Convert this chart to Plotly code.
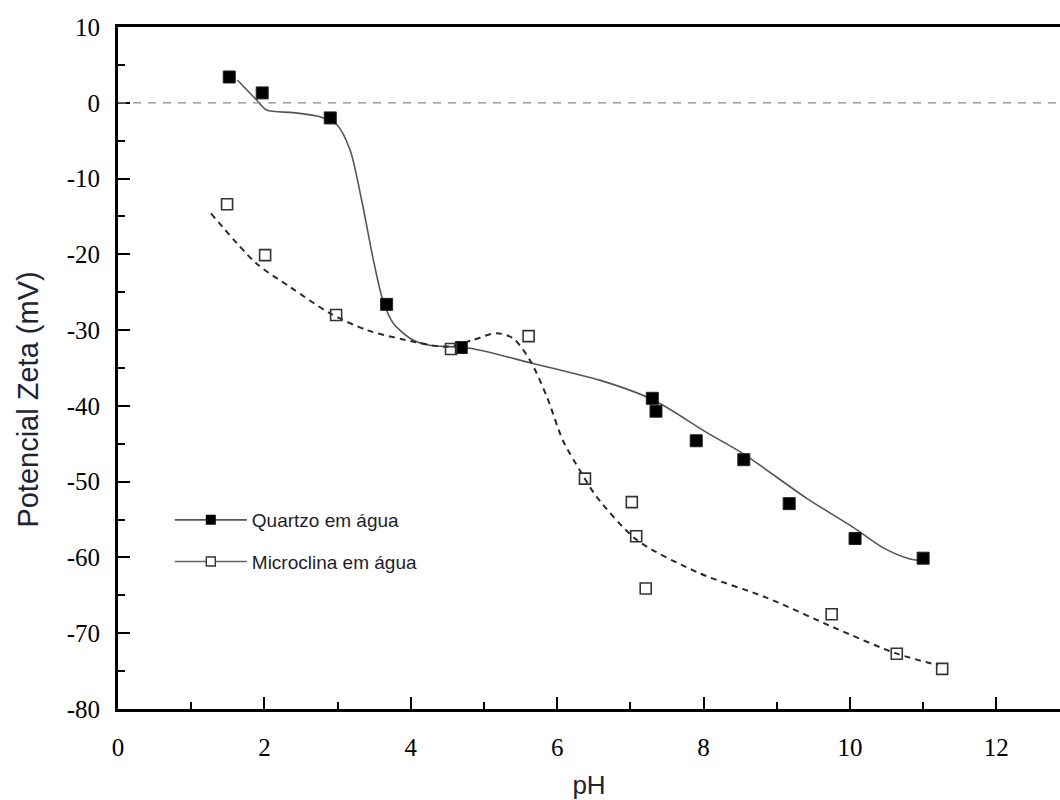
import plotly.graph_objects as go

# Measured data points
quartz_ph = [1.52, 1.97, 2.90, 3.67, 4.69, 7.30, 7.35, 7.90, 8.55, 9.17, 10.07, 11.00]
quartz_zeta = [3.4, 1.3, -2.0, -26.6, -32.3, -39.0, -40.7, -44.6, -47.1, -52.9, -57.5, -60.1]

micro_ph = [1.49, 2.01, 2.98, 4.55, 5.61, 6.38, 7.02, 7.08, 7.21, 9.75, 10.64, 11.26]
micro_zeta = [-13.4, -20.1, -28.0, -32.5, -30.8, -49.6, -52.7, -57.2, -64.1, -67.5, -72.7, -74.7]

# Fitted curves
quartz_fit_ph = [1.63, 1.89, 2.03, 2.40, 2.76, 2.99, 3.17, 3.33, 3.49, 3.62, 3.76, 4.03, 4.26,
                 4.81, 5.67, 6.58, 7.31, 8.04, 8.54, 9.41, 10.04, 10.45, 10.82, 10.95]
quartz_fit_zeta = [3.0, 0.4, -0.96, -1.3, -1.85, -2.9, -6.2, -12.9, -20.8, -26.1, -29.1, -31.3, -32.0,
                   -32.4, -34.4, -36.6, -39.2, -43.5, -46.3, -52.2, -56.0, -58.7, -60.2, -60.4]

micro_fit_ph = [1.27, 1.89, 2.35, 2.90, 3.40, 3.93, 4.49, 4.85, 5.17, 5.40, 5.63, 5.86, 6.08,
                6.31, 6.54, 7.09, 7.95, 8.86, 9.77, 10.64, 11.20]
micro_fit_zeta = [-14.6, -21.2, -24.3, -27.8, -30.0, -31.3, -32.2, -31.3, -30.4, -31.1, -34.0, -38.8, -44.6,
                  -48.5, -52.0, -57.7, -62.1, -65.3, -69.2, -72.7, -74.2]

x_range = [0, 12.87]
y_range = [-80, 10]
x_tick_vals = [0, 2, 4, 6, 8, 10, 12]
x_tick_text = ["0", "2", "4", "6", "8", "10", "12"]
y_tick_vals = [10, 0, -10, -20, -30, -40, -50, -60, -70, -80]
y_tick_text = ["10", "0", "-10", "-20", "-30", "-40", "-50", "-60", "-70", "-80"]

SERIF = "'Liberation Serif', 'Times New Roman', Times, serif"
SANS = "'Liberation Sans', Arial, sans-serif"

fig = go.Figure()

# fitted curves
fig.add_trace(go.Scatter(x=quartz_fit_ph, y=quartz_fit_zeta, mode="lines",
                         line=dict(color="#555555", width=1.6, shape="spline", smoothing=0.8),
                         showlegend=False, hoverinfo="skip"))
fig.add_trace(go.Scatter(x=micro_fit_ph, y=micro_fit_zeta, mode="lines",
                         line=dict(color="#2a2a2a", width=2, shape="spline", smoothing=0.8, dash="6px,5px"),
                         showlegend=False, hoverinfo="skip"))

# data markers
fig.add_trace(go.Scatter(x=quartz_ph, y=quartz_zeta, mode="markers",
                         marker=dict(symbol="square", size=12, color="black",
                                     line=dict(color="#222222", width=1)),
                         showlegend=False))
fig.add_trace(go.Scatter(x=micro_ph, y=micro_zeta, mode="markers",
                         marker=dict(symbol="square-open", size=11, color="#333333",
                                     line=dict(width=1.6)),
                         showlegend=False))

# legend entries
fig.add_trace(go.Scatter(x=[None], y=[None], mode="lines+markers", name="Quartzo em água",
                         legendgroup="q",
                         line=dict(color="#555555", width=1.6),
                         marker=dict(symbol="square", size=10, color="black")))
fig.add_trace(go.Scatter(x=[None], y=[None], mode="lines+markers", name="Microclina em água",
                         legendgroup="m",
                         line=dict(color="#666666", width=1.6),
                         marker=dict(symbol="square", size=9, color="white",
                                     line=dict(color="#333333", width=1.4))))

# zero reference line
fig.add_shape(type="line", xref="paper", yref="y", x0=0, x1=1, y0=0, y1=0,
              line=dict(color="#888888", width=1.3, dash="8px,7px"))

# y axis title (placed like the original, slightly below the plot centre)
fig.add_annotation(text="Potencial Zeta (mV)", xref="paper", yref="paper",
                   x=-0.096, y=0.453, xanchor="center", yanchor="middle",
                   textangle=-90, showarrow=False,
                   font=dict(family=SANS, size=29, color="#222233"))

fig.update_layout(
    width=1060, height=800,
    margin=dict(l=118, r=0, t=27, b=91),
    paper_bgcolor="white", plot_bgcolor="white",
    showlegend=True,
    legend=dict(x=0.055, y=0.305, xanchor="left", yanchor="top",
                bgcolor="rgba(0,0,0,0)", itemwidth=72, tracegroupgap=14,
                font=dict(family=SANS, size=19, color="#1e1e2a")),
    xaxis=dict(range=x_range, showgrid=False, zeroline=False,
               showline=True, linecolor="black", linewidth=3, mirror=True,
               ticks="inside", ticklen=12, tickwidth=2, tickcolor="black",
               tickmode="array", tickvals=x_tick_vals, ticktext=x_tick_text,
               ticklabelstandoff=14,
               minor=dict(ticks="inside", ticklen=7, tickwidth=2, tickcolor="black",
                          tickmode="linear", tick0=0, dtick=1),
               tickfont=dict(family=SERIF, size=25, color="black"),
               title=dict(text="pH", standoff=16,
                          font=dict(family=SANS, size=26, color="#222233"))),
    yaxis=dict(range=y_range, showgrid=False, zeroline=False,
               showline=True, linecolor="black", linewidth=3,
               ticks="inside", ticklen=12, tickwidth=2, tickcolor="black",
               tickmode="array", tickvals=y_tick_vals, ticktext=y_tick_text,
               ticklabelstandoff=10,
               minor=dict(ticks="inside", ticklen=7, tickwidth=2, tickcolor="black",
                          tickmode="linear", tick0=0, dtick=5),
               tickfont=dict(family=SERIF, size=25, color="black")),
)

fig.write_html("out.html")
